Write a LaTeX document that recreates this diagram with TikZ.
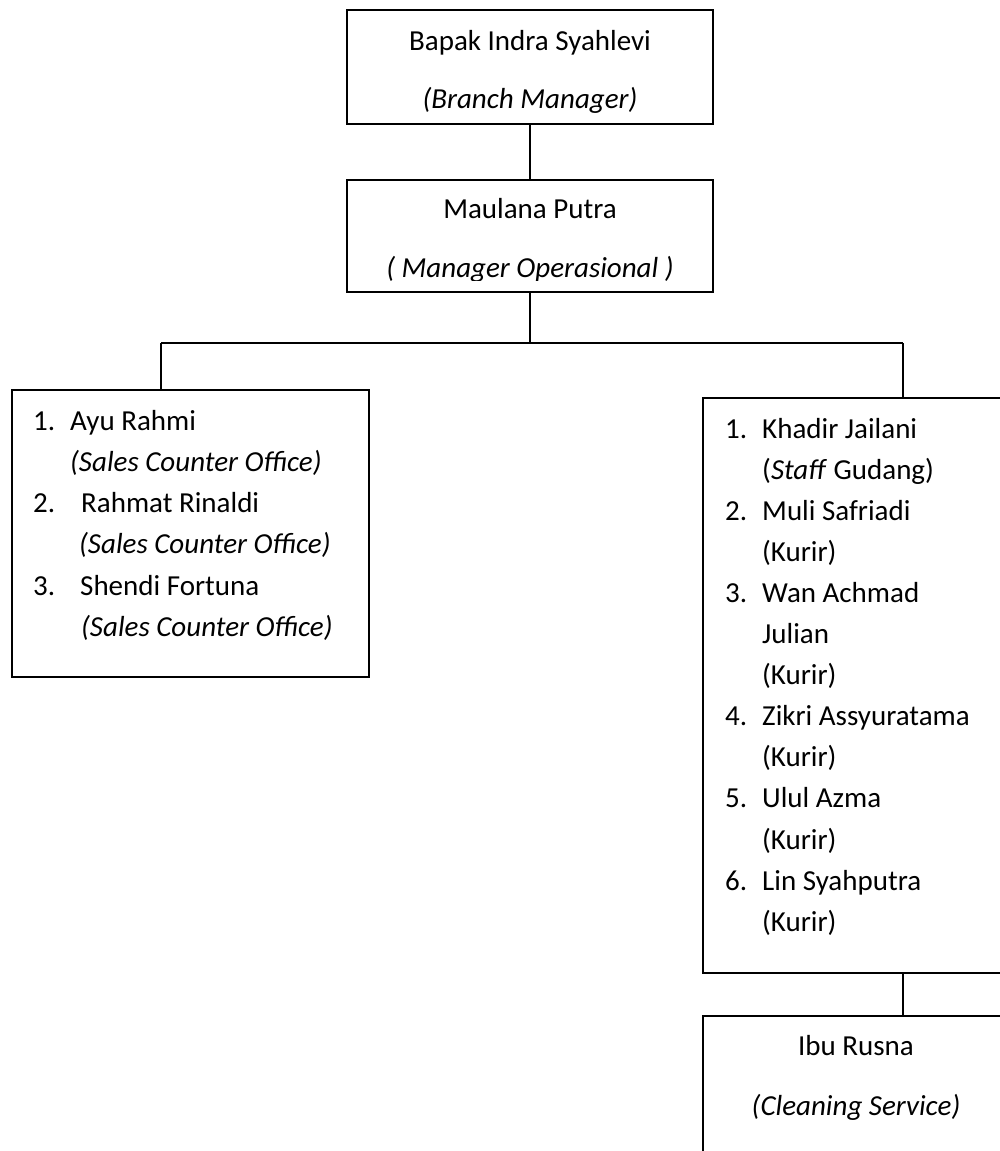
\documentclass[tikz,border=0pt]{standalone}
\usepackage{fontspec}
\setmainfont{Carlito}
\begin{document}
\begin{tikzpicture}[x=1pt,y=-1pt,
  box/.style={draw, line width=1.8pt, rectangle, inner sep=0pt, outer sep=0pt},
  conn/.style={line width=1.3pt},
  txt/.style={inner sep=0pt, anchor=base west, font=\fontsize{29}{35}\selectfont},
  ctxt/.style={inner sep=0pt, anchor=base, font=\fontsize{29}{35}\selectfont}]
\useasboundingbox (0,0) rectangle (1000,1151);
\clip (0,0) rectangle (1000,1151);

% boxes
\node[box, minimum width=366pt, minimum height=114pt] (bm) at (530,67) {};
\node[box, minimum width=366pt, minimum height=112pt] (om) at (530,236) {};
\node[box, minimum width=357pt, minimum height=287pt] (lb) at (190.5,533.5) {};
\node[box, minimum width=307pt, minimum height=575pt] (rb) at (856.5,685.5) {};
\node[box, minimum width=307pt, minimum height=160pt] (cb) at (856.5,1096) {};

% connectors
\coordinate (hl) at (161,343);
\coordinate (hr) at (903,343);
\draw[conn] (bm.south) -- (om.north);
\draw[conn] (om.south) -- (om.south |- hl);
\draw[conn] (hl) -- (hr);
\draw[conn] (hl) -- (hl |- lb.north);
\draw[conn] (hr) -- (hr |- rb.north);
\draw[conn] (hr |- rb.south) -- (hr |- cb.north);

% top box
\node[ctxt] (bmn) at (530,50) {Bapak Indra Syahlevi};
\node[ctxt] (bmr) at (530,108) {\itshape (Branch Manager)};

% second box
\node[ctxt] (omn) at (530,218) {Maulana Putra};
\begin{scope}
\clip (350,240) rectangle (710,280);
\node[ctxt] (omr) at (530,277) {\itshape ( Manager Operasional )};
\end{scope}

% left box
\node[txt] (l1n) at (33,430) {1.};
\node[txt] (l1a) at (70,430) {Ayu Rahmi};
\node[txt] (l1b) at (70,471.25) {\itshape (Sales Counter Office)};
\node[txt] (l2n) at (33,512.5) {2.};
\node[txt] (l2a) at (81,512.5) {Rahmat Rinaldi};
\node[txt] (l2b) at (79,553.75) {\itshape (Sales Counter Office)};
\node[txt] (l3n) at (33,595) {3.};
\node[txt] (l3a) at (80,595) {Shendi Fortuna};
\node[txt] (l3b) at (81,636.25) {\itshape (Sales Counter Office)};

% right box
\node[txt] (r1n) at (725,438) {1.};
\node[txt] (r1a) at (762,438) {Khadir Jailani};
\node[txt] (r1b) at (762,479.1) {(\textit{Staff} Gudang)};
\node[txt] (r2n) at (725,520.2) {2.};
\node[txt] (r2a) at (762,520.2) {Muli Safriadi};
\node[txt] (r2b) at (762,561.3) {(Kurir)};
\node[txt] (r3n) at (725,602.4) {3.};
\node[txt] (r3a) at (762,602.4) {Wan Achmad};
\node[txt] (r3c) at (762,643.5) {Julian};
\node[txt] (r3b) at (762,684.6) {(Kurir)};
\node[txt] (r4n) at (725,725.7) {4.};
\node[txt] (r4a) at (762,725.7) {Zikri Assyuratama};
\node[txt] (r4b) at (762,766.8) {(Kurir)};
\node[txt] (r5n) at (725,807.9) {5.};
\node[txt] (r5a) at (762,807.9) {Ulul Azma};
\node[txt] (r5b) at (762,849) {(Kurir)};
\node[txt] (r6n) at (725,890.1) {6.};
\node[txt] (r6a) at (762,890.1) {Lin Syahputra};
\node[txt] (r6b) at (762,931.2) {(Kurir)};

% bottom box
\node[ctxt] (cbn) at (856,1055) {Ibu Rusna};
\node[ctxt] (cbr) at (856,1115) {\itshape (Cleaning Service)};
\end{tikzpicture}
\end{document}
